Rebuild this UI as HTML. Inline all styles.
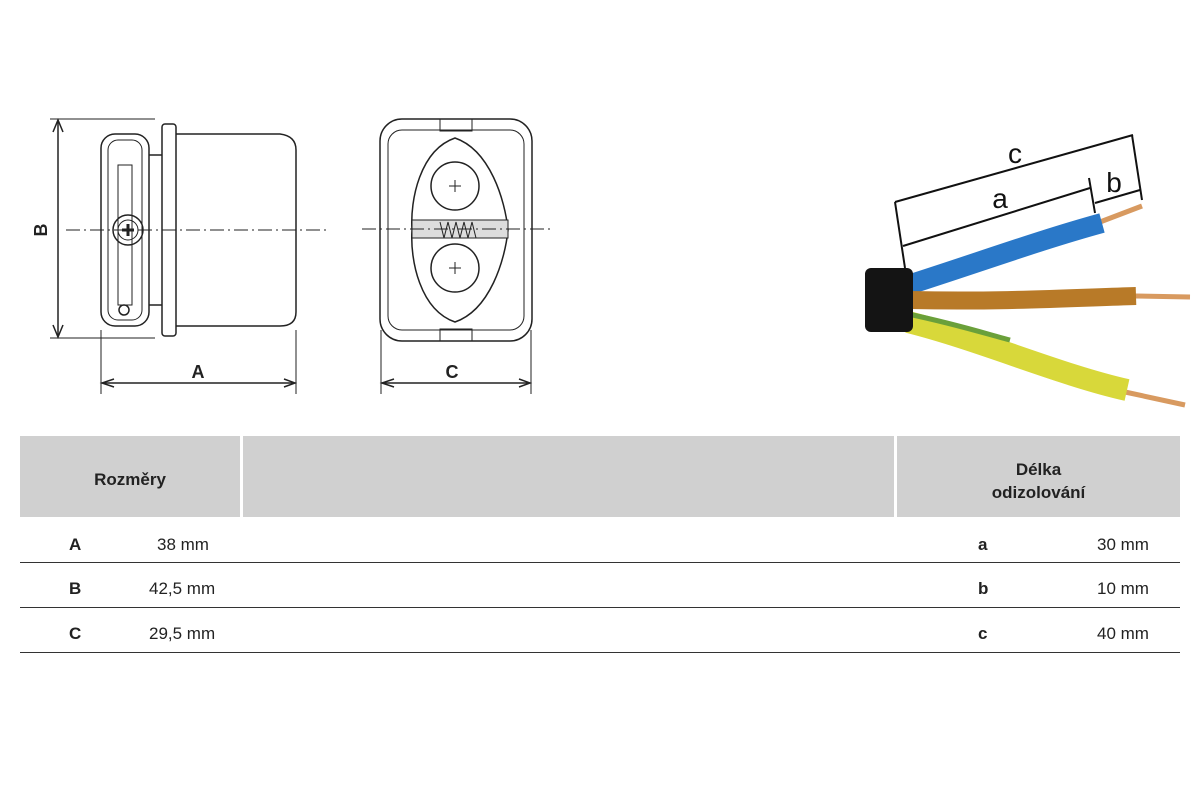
<!DOCTYPE html>
<html><head><meta charset="utf-8"><style>
body{margin:0;width:1200px;height:800px;background:#fff;position:relative;overflow:hidden;font-family:"Liberation Sans",sans-serif;}
.t{position:absolute;font-size:17px;color:#222;}
.b{font-weight:bold;}
.h{position:absolute;background:#d0d0d0;top:436px;height:81px;}
.ln{position:absolute;left:20px;width:1160px;height:1px;background:#333;}
</style></head><body>
<svg width="1200" height="430" style="position:absolute;left:0;top:0" fill="none" stroke="#222" stroke-width="1.5">
<!-- left view -->
<line x1="50" y1="119" x2="155" y2="119" stroke-width="1"/>
<line x1="50" y1="338" x2="155" y2="338" stroke-width="1"/>
<line x1="58" y1="122" x2="58" y2="335"/>
<path d="M53 132 L58 120 L63 132 M53 325 L58 337 L63 325" />
<text x="47" y="230" font-family="Liberation Sans" font-weight="bold" font-size="18" fill="#222" stroke="none" transform="rotate(-90 47 230)" text-anchor="middle">B</text>
<rect x="101" y="134" width="48" height="192" rx="14"/>
<rect x="108" y="140" width="34" height="180" rx="10" stroke-width="1"/>
<rect x="118" y="165" width="14" height="140" stroke-width="1"/>
<circle cx="128" cy="230" r="15"/><circle cx="128" cy="230" r="10" stroke-width="1"/>
<path d="M122 230h12M128 224v12" stroke-width="3"/>
<circle cx="124" cy="310" r="5"/>
<rect x="162" y="124" width="14" height="212" rx="3"/>
<path d="M176 134 L280 134 Q296 136 296 150 L296 312 Q296 326 280 326 L176 326"/>
<path d="M149 155 L162 155 M149 305 L162 305"/>
<line x1="66" y1="230" x2="330" y2="230" stroke-dasharray="14 4 2 4" stroke-width="1"/>
<line x1="101" y1="330" x2="101" y2="394" stroke-width="1"/>
<line x1="296" y1="330" x2="296" y2="394" stroke-width="1"/>
<line x1="103" y1="383" x2="294" y2="383"/>
<path d="M114 379 L102 383 L114 387 M284 379 L295 383 L284 387"/>
<text x="198" y="378" font-family="Liberation Sans" font-weight="bold" font-size="18" fill="#222" stroke="none" text-anchor="middle">A</text>
<!-- right view -->
<rect x="380" y="119" width="152" height="222" rx="22"/>
<rect x="388" y="130" width="136" height="200" rx="14" stroke-width="1"/>
<rect x="440" y="119" width="32" height="12" stroke-width="1"/>
<rect x="440" y="329" width="32" height="12" stroke-width="1"/>
<path d="M455 138 C420 150 410 200 412 230 C410 260 420 310 455 322 C490 310 505 260 508 230 C505 200 490 150 455 138Z"/>
<circle cx="455" cy="186" r="24" fill="#fff"/><circle cx="455" cy="268" r="24" fill="#fff"/>
<path d="M449 186h12M455 180v12M449 268h12M455 262v12" stroke-width="1"/>
<rect x="412" y="220" width="96" height="18" fill="#ddd" stroke-width="1"/>
<path d="M440 222 l4 16 l4 -16 l4 16 l4 -16 l4 16 l4 -16 l4 16 l4 -16 l4 16" stroke-width="1"/>
<line x1="362" y1="229" x2="550" y2="229" stroke-dasharray="14 4 2 4" stroke-width="1"/>
<line x1="381" y1="330" x2="381" y2="394" stroke-width="1"/>
<line x1="531" y1="330" x2="531" y2="394" stroke-width="1"/>
<line x1="383" y1="383" x2="529" y2="383"/>
<path d="M394 379 L382 383 L394 387 M519 379 L530 383 L519 387"/>
<text x="452" y="378" font-family="Liberation Sans" font-weight="bold" font-size="18" fill="#222" stroke="none" text-anchor="middle">C</text>
<!-- cable -->
<path d="M1100 222 L1142 206" stroke="#d89a60" stroke-width="5"/>
<path d="M1135 296 L1190 297" stroke="#d89a60" stroke-width="5"/>
<path d="M1125 392 L1185 405" stroke="#d89a60" stroke-width="5"/>
<path d="M908 285 C980 262 1040 240 1102 223" stroke="#2a78c8" stroke-width="20"/>
<path d="M910 300 C1000 302 1070 298 1136 296" stroke="#b87a28" stroke-width="18"/>
<path d="M908 322 C980 340 1060 375 1127 390" stroke="#d8d83a" stroke-width="22"/>
<path d="M908 314 C960 325 990 335 1010 340" stroke="#6aa03a" stroke-width="5"/>
<rect x="865" y="268" width="48" height="64" rx="6" fill="#141414" stroke="none"/>
<g stroke="#111" stroke-width="2">
<line x1="895" y1="202" x2="1133" y2="135"/>
<line x1="895" y1="202" x2="905" y2="268"/>
<line x1="1132" y1="135" x2="1142" y2="200"/>
<line x1="903" y1="246" x2="1090" y2="188"/>
<line x1="1089" y1="178" x2="1095" y2="213"/>
<line x1="1095" y1="203" x2="1140" y2="190"/>
</g>
<g font-family="Liberation Sans" font-size="28" fill="#111" stroke="none" text-anchor="middle">
<text x="1015" y="163">c</text><text x="1000" y="208">a</text><text x="1114" y="192">b</text>
</g>
</svg>
<div class="h" style="left:20px;width:220px"></div>
<div class="h" style="left:243px;width:651px"></div>
<div class="h" style="left:897px;width:283px"></div>
<div class="t b" style="left:20px;width:220px;top:470px;text-align:center">Rozměry</div>
<div class="t b" style="left:897px;width:283px;top:458px;text-align:center;line-height:23px">Délka<br>odizolování</div>
<div class="ln" style="top:562px"></div><div class="ln" style="top:607px"></div><div class="ln" style="top:652px"></div>
<div class="t b" style="left:69px;top:535px">A</div><div class="t" style="left:157px;top:535px">38 mm</div>
<div class="t b" style="left:69px;top:579px">B</div><div class="t" style="left:149px;top:579px">42,5 mm</div>
<div class="t b" style="left:69px;top:624px">C</div><div class="t" style="left:149px;top:624px">29,5 mm</div>
<div class="t b" style="left:978px;top:535px">a</div><div class="t" style="left:1097px;top:535px">30 mm</div>
<div class="t b" style="left:978px;top:579px">b</div><div class="t" style="left:1097px;top:579px">10 mm</div>
<div class="t b" style="left:978px;top:624px">c</div><div class="t" style="left:1097px;top:624px">40 mm</div>
</body></html>
